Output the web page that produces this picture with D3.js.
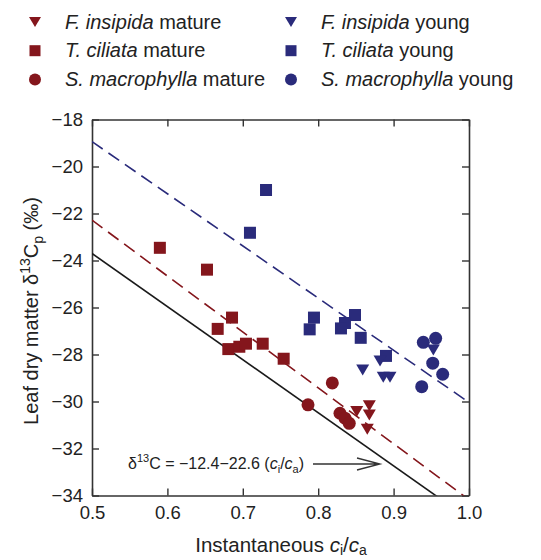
<!DOCTYPE html>
<html>
<head>
<meta charset="utf-8">
<script src="https://d3js.org/d3.v7.min.js"></script>
<style>
  body { margin: 0; background: #fff; }
  text { font-family: "Liberation Sans", Arial, sans-serif; fill: #222; }
</style>
</head>
<body>
<svg id="chart" width="541" height="560"></svg>
<script>
// data: [ci/ca, delta13C]
var fiMature = [[0.8511,-30.43],[0.8678,-30.18],[0.8678,-30.57],[0.8651,-31.18]];
var tcMature = [[0.590,-23.46],[0.6525,-24.39],[0.6857,-26.43],[0.6667,-26.91],[0.6808,-27.77],
                [0.6954,-27.67],[0.7042,-27.54],[0.7264,-27.54],[0.7542,-28.18]];
var smMature = [[0.8187,-29.21],[0.7865,-30.14],[0.8289,-30.50],[0.8355,-30.71],[0.8412,-30.93]];
var fiYoung = [[0.859,-28.66],[0.882,-28.28],[0.8863,-28.97],[0.8952,-28.97],[0.9527,-27.81]];
var tcYoung = [[0.7308,-21.0],[0.7095,-22.82],[0.7944,-26.43],[0.7887,-26.93],[0.8488,-26.32],
               [0.8355,-26.66],[0.8302,-26.89],[0.8564,-27.29],[0.8899,-28.06]];
var smYoung = [[0.9394,-27.48],[0.9558,-27.31],[0.9519,-28.37],[0.9651,-28.84],[0.9373,-29.37]];

// regression lines: intercept, slope
var lineTheory = [-12.4, -22.6];
var lineMature = [-10.38, -23.8];
var lineYoung = [-7.84, -22.2];

var xTicks = [0.5, 0.6, 0.7, 0.8, 0.9, 1.0];
var yTicks = [-18, -20, -22, -24, -26, -28, -30, -32, -34];

var red = "#84161c", blue = "#2a2b7b", axisCol = "#333";

var svg = d3.select("#chart");
var x = d3.scaleLinear().domain([0.5, 1.0]).range([92, 469]);
var y = d3.scaleLinear().domain([-34, -18]).range([495.5, 119.5]);

svg.append("defs").append("clipPath").attr("id", "clip")
  .append("rect").attr("x", 92).attr("y", 119.5).attr("width", 377).attr("height", 376);

var tick = 7;
// axes: inside ticks on all four sides
var axB = svg.append("g").attr("transform", "translate(0," + y(-34) + ")")
  .call(d3.axisBottom(x).tickValues(xTicks).tickSizeInner(-tick).tickSizeOuter(0).tickPadding(10).tickFormat(d3.format(".1f")));
var axT = svg.append("g").attr("transform", "translate(0," + y(-18) + ")")
  .call(d3.axisTop(x).tickValues(xTicks).tickSizeInner(-tick).tickSizeOuter(0).tickFormat(""));
var axL = svg.append("g").attr("transform", "translate(" + x(0.5) + ",0)")
  .call(d3.axisLeft(y).tickValues(yTicks).tickSizeInner(-tick).tickSizeOuter(0).tickPadding(9).tickFormat(d => "\u2212" + Math.abs(d)));
var axR = svg.append("g").attr("transform", "translate(" + x(1.0) + ",0)")
  .call(d3.axisRight(y).tickValues(yTicks).tickSizeInner(-tick).tickSizeOuter(0).tickFormat(""));
[axB, axT, axL, axR].forEach(function(a) {
  a.select(".domain").attr("stroke", axisCol).attr("stroke-width", 1.6);
  a.selectAll(".tick line").attr("stroke", axisCol).attr("stroke-width", 1.4);
  a.selectAll(".tick text").style("font-size", "18.5px").attr("fill", "#222")
    .style("font-family", "Liberation Sans, Arial, sans-serif");
});

// regression lines
var plot = svg.append("g").attr("clip-path", "url(#clip)");
function regLine(p, col, dash) {
  var pts = [0.5, 1.0].map(function(v) { return [x(v), y(p[0] + p[1] * v)]; });
  plot.append("path").attr("d", d3.line()(pts)).attr("fill", "none")
    .attr("stroke", col).attr("stroke-width", 1.6).attr("stroke-dasharray", dash);
}
regLine(lineYoung, blue, "13,7");
regLine(lineMature, red, "13,7");
regLine(lineTheory, "#1a1a1a", null);

// markers
var tri = "M-6.5,-5.5L6.5,-5.5L0,5.5Z";
function drawPts(data, col, shape) {
  var g = svg.append("g");
  data.forEach(function(d) {
    var px = x(d[0]), py = y(d[1]);
    if (shape == "tri") g.append("path").attr("d", tri).attr("transform", "translate(" + px + "," + py + ")").attr("fill", col);
    else if (shape == "sq") g.append("rect").attr("x", px - 6).attr("y", py - 6).attr("width", 12).attr("height", 12).attr("fill", col);
    else g.append("circle").attr("cx", px).attr("cy", py).attr("r", 6.5).attr("fill", col);
  });
}
drawPts(tcMature, red, "sq");
drawPts(smMature, red, "circ");
drawPts(fiMature, red, "tri");
drawPts(tcYoung, blue, "sq");
drawPts(smYoung, blue, "circ");
drawPts(fiYoung, blue, "tri");

// annotation
var ann = svg.append("text").attr("x", 128).attr("y", 469).style("font-size", "16px");
ann.append("tspan").text("\u03b4");
ann.append("tspan").attr("dy", -7).style("font-size", "11px").text("13");
ann.append("tspan").attr("dy", 7).text("C = \u221212.4\u221222.6 (");
ann.append("tspan").style("font-style", "italic").text("c");
ann.append("tspan").attr("dy", 4).style("font-size", "11px").text("i");
ann.append("tspan").attr("dy", -4).text("/");
ann.append("tspan").style("font-style", "italic").text("c");
ann.append("tspan").attr("dy", 4).style("font-size", "11px").text("a");
ann.append("tspan").attr("dy", -4).text(")");
svg.append("path").attr("d", "M313,464L380,464M357,458L380,464L357,470")
  .attr("fill", "none").attr("stroke", "#333").attr("stroke-width", 1.3);

// axis titles
var xt = svg.append("text").attr("x", 281).attr("y", 552).attr("text-anchor", "middle").style("font-size", "20.5px");
xt.append("tspan").text("Instantaneous ");
xt.append("tspan").style("font-style", "italic").text("c");
xt.append("tspan").attr("dy", 3).style("font-size", "14px").text("i");
xt.append("tspan").attr("dy", -3).text("/");
xt.append("tspan").style("font-style", "italic").text("c");
xt.append("tspan").attr("dy", 3).style("font-size", "14px").text("a");

var yt = svg.append("text").attr("transform", "translate(38,311) rotate(-90)").attr("text-anchor", "middle").style("font-size", "20px");
yt.append("tspan").text("Leaf dry matter \u03b4");
yt.append("tspan").attr("dy", -8).style("font-size", "14px").text("13");
yt.append("tspan").attr("dy", 8).text("C");
yt.append("tspan").attr("dy", 5).style("font-size", "14px").text("p");
yt.append("tspan").attr("dy", -5).text(" (\u2030)");

// legend
var legendItems = [
  {sp: "F. insipida", age: " mature", col: red, shape: "tri"},
  {sp: "T. ciliata", age: " mature", col: red, shape: "sq"},
  {sp: "S. macrophylla", age: " mature", col: red, shape: "circ"},
  {sp: "F. insipida", age: " young", col: blue, shape: "tri"},
  {sp: "T. ciliata", age: " young", col: blue, shape: "sq"},
  {sp: "S. macrophylla", age: " young", col: blue, shape: "circ"}
];
legendItems.forEach(function(it, i) {
  var col = Math.floor(i / 3), row = i % 3;
  var mx = col ? 291 : 35, my = 22 + row * 28.7;
  var g = svg.append("g");
  if (it.shape == "tri") g.append("path").attr("d", "M-6,-5L6,-5L0,5Z").attr("transform", "translate(" + mx + "," + my + ")").attr("fill", it.col);
  else if (it.shape == "sq") g.append("rect").attr("x", mx - 5.5).attr("y", my - 5.5).attr("width", 11).attr("height", 11).attr("fill", it.col);
  else g.append("circle").attr("cx", mx).attr("cy", my).attr("r", 6).attr("fill", it.col);
  var t = g.append("text").attr("x", mx + 30).attr("y", my + 6.5).style("font-size", "20px");
  t.append("tspan").style("font-style", "italic").text(it.sp);
  t.append("tspan").text(it.age);
});
</script>
</body>
</html>
